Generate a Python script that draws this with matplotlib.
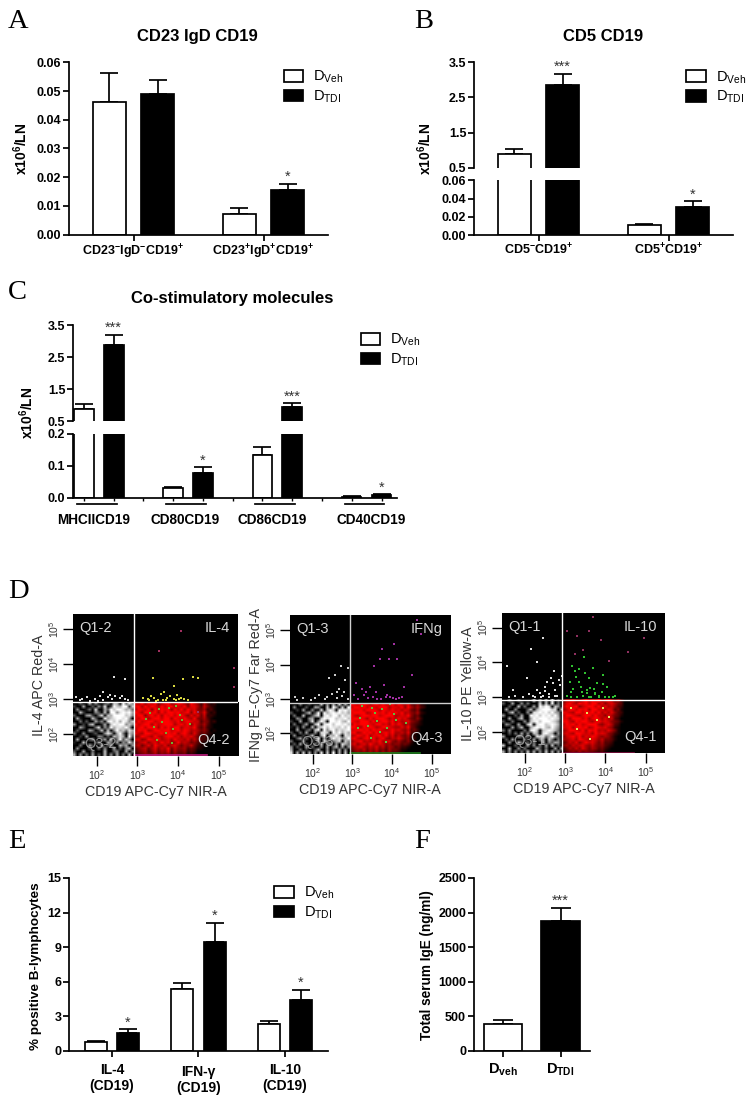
import numpy as np
import matplotlib
matplotlib.use("Agg")
import matplotlib.pyplot as plt
from matplotlib.patches import Patch
from matplotlib.colors import LinearSegmentedColormap

plt.rcParams['font.family'] = ['Liberation Sans', 'DejaVu Sans']
plt.rcParams['mathtext.fontset'] = 'custom'
plt.rcParams['mathtext.rm'] = 'Liberation Sans'
plt.rcParams['mathtext.bf'] = 'Liberation Sans:bold'
plt.rcParams['mathtext.it'] = 'Liberation Sans:italic'

W, H = 752, 1102
LW = 1.25
# ---------------- data ----------------
a_labels = [r'$\mathbf{CD23^{-}IgD^{-}CD19^{+}}$', r'$\mathbf{CD23^{+}IgD^{+}CD19^{+}}$']
a_veh = [0.0462, 0.0071]
a_veh_top = [0.0564, 0.0094]
a_tdi = [0.0488, 0.0157]
a_tdi_top = [0.0538, 0.0177]
a_sig = ['', '*']

b_labels = [r'$\mathbf{CD5^{-}CD19^{+}}$', r'$\mathbf{CD5^{+}CD19^{+}}$']
b_veh = [0.90, 0.0105]
b_veh_top = [1.03, 0.012]
b_tdi = [2.85, 0.0305]
b_tdi_top = [3.17, 0.037]
b_sig = ['***', '*']

c_labels = ['MHCIICD19', 'CD80CD19', 'CD86CD19', 'CD40CD19']
c_veh = [0.90, 0.030, 0.135, 0.004]
c_veh_top = [1.03, 0.033, 0.160, 0.005]
c_tdi = [2.87, 0.077, 0.95, 0.009]
c_tdi_top = [3.20, 0.095, 1.06, 0.011]
c_sig = ['***', '*', '***', '*']

e_labels = ['IL-4\n(CD19)', 'IFN-γ\n(CD19)', 'IL-10\n(CD19)']
e_veh = [0.75, 5.4, 2.35]
e_veh_top = [0.82, 5.85, 2.6]
e_tdi = [1.55, 9.45, 4.4]
e_tdi_top = [1.85, 11.1, 5.3]
e_sig = ['*', '*', '*']

f_labels = [r'$\mathbf{D_{veh}}$', r'$\mathbf{D_{TDI}}$']
f_values = [385, 1875]
f_tops = [440, 2065]
f_sig = ['', '***']

legend_labels = [r'$\mathregular{D_{Veh}}$', r'$\mathregular{D_{TDI}}$']

# flow cytometry: event density in 3-pixel cells (digits 0-9), top row first
p1_white = ["00300705002407609385", "20060030518029769927", "05001408006397998674",
            "00720005307099589896", "30005620480769999785", "06100073009578998960",
            "00403006250897969857", "50020570016079899575", "00630004805296887960",
            "03000640270705967486", "40050013005860694075", "00206000540307586093",
            "06000350026070493750", "10070002500640605384", "00400620060350074605",
            "05000300405006030570", "30060040007003500604", "60504060307050604070"]
p1_red = ["76958794689579864975263120000000", "89697986979968795886374210000000",
          "69879597989597969785462310000000", "98699896979989789596583120000000",
          "79958979698979975868472210000000", "87996899799698797695463100000000",
          "69789978999879689877354120000000", "97899697899968979586463100000000",
          "78979996979799688795352100000000", "69896799899789798676453010000000",
          "87699878979896897585342100000000", "56987697689978687864231000000000",
          "78569879678697768574322000000000", "46785786978569676453210000000000",
          "57468597685786465742110000000000", "35674685769475563431100000000000",
          "24563574658364452320000000000000", "13454463545353341210000000000000"]
p2_white = ["00040020007050608060", "05000300650070960709", "00206005008079709897",
            "30000470390968989786", "04007003680897996978", "00530056007989978897",
            "20060038059709989769", "04002600790899799897", "10305007068979887979",
            "00600240790958968789", "30040600508870979686", "05002037006907696087",
            "00360400580605978569", "40005002060850468075", "03060300407036050864",
            "50300604005060470605", "60040200370050306050", "80607060508070906070"]
p2_red = ["98799868979789697684352100000000", "79989798799968879596463200000000",
          "98897999869879786874351000000000", "89999679989798979675462100000000",
          "97689989978999678795341000000000", "89998697999868797864352000000000",
          "98799979689979686785431000000000", "69899987997869797574321000000000",
          "99769898679987668694310000000000", "78998979897679786573420000000000",
          "89679897968979667583210000000000", "67987968897968575462100000000000",
          "79768979689657686451200000000000", "57896768796785464352000000000000",
          "68578697687564553431000000000000", "46786576857465342210000000000000",
          "35657465745364431100000000000000", "24545464636453321000000000000000"]
p3_white = ["00400300007050608030", "30060050400080709040", "00300704006097980750",
            "06005000370689997806", "00470300508898979650", "50003060098979897960",
            "00600470069899989870", "30040005078979998750", "05300600790899789860",
            "00060370068989769750", "40500004089707898640", "00304060507608976050",
            "60000530400878469530", "03060004006056074040", "00500730304007053650",
            "70003000605040607030", "00700504000730400605", "60505040706050706050"]
p3_red = ["36685479687957863520000000000000", "58976989799685786430000000000000",
          "69889578997968675320000000000000", "57997989699786873410000000000000",
          "88769979897968685320000000000000", "69987689979775864310000000000000",
          "78699979689868673200000000000000", "89769899768978754310000000000000",
          "69897978999657863200000000000000", "78969989679878652100000000000000",
          "57998796989676864100000000000000", "68769987869787542100000000000000",
          "47897968798656531000000000000000", "56786987687574431000000000000000",
          "35768579786463320000000000000000", "46576786575453210000000000000000",
          "24657586465342100000000000000000", "13454645443231000000000000000000"]

# individual events, log10 coordinates
p1_w_x = [2.42,2.69,2.16,2.33,1.77,1.96,2.08,2.28,2.45,2.57,2.69,2.77,1.50,1.59,1.84,2.16,1.65,2.02,2.37,2.62]
p1_w_y = [3.65,3.57,3.20,3.13,3.06,3.01,3.08,3.06,3.10,3.04,3.01,2.98,3.06,2.98,2.96,2.98,3.02,2.96,3.00,3.08]
p1_y_x = [3.14,3.25,3.33,3.42,3.50,3.58,3.66,3.73,3.81,3.90,3.98,4.06,4.15,4.25,3.38,3.90,4.11,4.36,4.48,3.45,3.70,3.96,3.28,3.62,4.02]
p1_y_y = [3.05,3.02,3.10,3.04,2.98,3.14,3.22,3.03,3.09,3.02,3.12,3.05,3.00,2.97,3.61,3.39,3.58,3.63,3.61,2.96,2.97,2.98,2.97,2.99,3.00]
p1_o_x = [3.54,4.07,5.37,5.38,4.50]
p1_o_y = [4.39,4.96,3.34,3.90,2.65]
p1_g_x = [3.30,3.52,3.78,3.95,3.61,3.40,3.88,4.10,3.22,3.70,4.30,3.47,3.85,4.05]
p1_g_y = [2.60,2.72,2.75,2.80,2.35,2.20,2.15,2.40,2.45,2.05,2.30,1.85,1.75,2.55]

p2_w_x = [2.55,2.72,2.82,2.65,2.48,2.35,2.15,2.05,1.95,1.75,1.55,2.30,2.62,2.75,2.88,2.90,2.40,2.60,1.60,2.80]
p2_w_y = [3.70,3.95,3.55,3.30,3.15,3.05,3.10,3.02,2.98,3.02,3.05,3.00,3.02,3.08,3.00,3.90,3.60,3.20,2.98,3.20]
p2_m_x = [3.10,3.25,3.45,3.60,3.80,3.95,4.10,4.25,3.05,3.30,3.52,3.72,3.88,4.18,3.15,3.40,3.62,3.85,4.02,4.30,3.70,3.55,3.92,4.12,4.50,3.35,4.05,4.62,4.72,3.75]
p2_m_y = [3.45,3.28,3.35,3.20,3.40,3.05,3.00,3.05,3.10,3.10,3.05,3.00,3.12,3.02,3.00,3.02,3.00,3.05,3.03,3.35,4.15,3.95,4.15,4.15,3.70,3.20,4.60,5.30,4.90,4.45]
p2_g_x = [3.25,3.50,3.75,3.95,3.62,3.40,3.88,4.10,3.20,3.70,4.35,3.47,3.85,4.05,3.15,3.58]
p2_g_y = [2.80,2.75,2.70,2.85,2.35,2.20,2.15,2.40,2.45,2.05,2.30,1.85,1.75,2.55,2.15,2.60]

p3_w_x = [2.85,2.72,2.50,2.30,2.10,2.65,2.45,2.20,1.95,1.75,1.55,2.40,2.60,2.75,2.88,2.30,2.70,2.55,2.80,2.15,1.60,1.70,2.60,2.38,2.50,2.92,2.75,2.45,2.25,2.05]
p3_w_y = [3.50,3.75,3.30,3.20,3.10,3.55,3.05,3.05,3.02,3.05,3.90,3.00,3.10,3.20,3.35,4.00,3.40,3.45,3.05,4.40,3.00,3.20,3.02,3.12,3.18,3.62,3.05,4.70,3.02,3.55]
p3_g_x = [3.05,3.15,3.30,3.45,3.60,3.75,3.85,4.00,4.10,4.25,3.20,3.40,3.55,3.72,3.92,3.12,3.35,3.60,3.80,4.05,3.25,3.50,3.70,3.95,3.18,3.42,3.65,3.85,3.48,3.28,3.75,3.55,3.95,3.15,4.20,3.62,3.35]
p3_g_y = [3.05,3.02,3.00,3.05,3.02,3.10,3.05,3.02,3.00,3.05,3.25,3.30,3.20,3.25,3.15,3.45,3.45,3.55,3.40,3.30,3.75,3.70,3.85,3.65,3.90,3.15,3.02,3.00,4.15,3.58,3.12,3.12,3.38,3.15,3.02,3.28,3.82]
p3_m_x = [3.05,3.30,3.60,3.90,4.55,4.95,4.10,3.45,3.25,3.70]
p3_m_y = [4.90,4.75,4.90,4.65,4.30,4.70,4.05,4.35,4.25,5.30]
p3_y_x = [3.55,3.80,3.30,3.95,3.62,3.15,4.10]
p3_y_y = [2.55,2.35,2.10,2.70,1.80,2.70,2.45]

facs_labels = [('IL-4 APC Red-A', 'Q1-2', 'IL-4', 'Q3-2', 'Q4-2'),
               ('IFNg PE-Cy7 Far Red-A', 'Q1-3', 'IFNg', 'Q3-3', 'Q4-3'),
               ('IL-10 PE Yellow-A', 'Q1-1', 'IL-10', 'Q3-1', 'Q4-1')]
facs_x_label = 'CD19 APC-Cy7 NIR-A'
facs_decades = [2, 3, 4, 5]

# ---------------- layout ----------------
fig = plt.figure(figsize=(W / 100, H / 100), dpi=100, facecolor='white')


def px_axes(left, right, top, bottom):
    return fig.add_axes([left / W, 1 - bottom / H, (right - left) / W, (bottom - top) / H])


def fx(x):
    return x / W


def fy(y):
    return 1 - y / H


def style(ax, size=9):
    for s in ('top', 'right'):
        ax.spines[s].set_visible(False)
    for s in ('left', 'bottom'):
        ax.spines[s].set_linewidth(LW)
    ax.tick_params(length=4, width=LW, pad=1.5, labelsize=size)
    for t in ax.get_yticklabels():
        t.set_fontweight('bold')


def draw_bars(axs, pos, vals, tops, color, width):
    for ax in axs:
        ax.bar(pos, vals, width=width, facecolor=color, edgecolor='black', linewidth=LW, zorder=2)
        lower = [0] * len(vals)
        upper = [t - v for t, v in zip(tops, vals)]
        ax.errorbar(pos, vals, yerr=[lower, upper], fmt='none', ecolor='black',
                    elinewidth=LW, capsize=6.5, capthick=LW, zorder=1)


def stars(ax, xs, tops, marks):
    for x, t, m in zip(xs, tops, marks):
        if m:
            ax.annotate(m, (x, t), xytext=(0, 2), textcoords='offset points', ha='center',
                        va='baseline', fontsize=10.5, color='#333333', annotation_clip=False)


def legend(ax, x, y):
    h = [Patch(facecolor='white', edgecolor='black', linewidth=LW),
         Patch(facecolor='black', edgecolor='black', linewidth=LW)]
    ax.legend(h, legend_labels, loc='upper left', bbox_to_anchor=(fx(x), fy(y)),
              bbox_transform=fig.transFigure, frameon=False, fontsize=10.5, borderpad=0,
              borderaxespad=0, handlelength=1.33, handleheight=0.85, handletextpad=0.68,
              labelspacing=0.22)


def ylabel(ax, text, x, y, size=10):
    ax.set_ylabel(text, fontsize=size, fontweight='bold')
    ax.yaxis.set_label_coords(fx(x + 7.5), fy(y), transform=fig.transFigure)


def panel_letter(s, x, y):
    fig.text(fx(x), fy(y), s, family='Liberation Serif', fontsize=20.5, va='baseline', ha='left')


Y6 = r'$\mathbf{x10^{6}/LN}$'

# ---------------- A ----------------
ax = px_axes(69, 328, 62.3, 234.7)
sp, off, bw = 130.0, 24.2 / 130, 33 / 130
x = np.arange(2)
draw_bars([ax], x - off, a_veh, a_veh_top, 'white', bw)
draw_bars([ax], x + off, a_tdi, a_tdi_top, 'black', bw)
stars(ax, x + off, a_tdi_top, a_sig)
ax.set_xlim((69 - 133.5) / sp, (328 - 133.5) / sp)
ax.set_ylim(0, 0.06)
ax.set_yticks([0, 0.01, 0.02, 0.03, 0.04, 0.05, 0.06], ['0.00', '0.01', '0.02', '0.03', '0.04', '0.05', '0.06'])
ax.set_xticks(x, a_labels)
style(ax)
legend(ax, 284, 69)
ylabel(ax, Y6, 22, 149)
ax.set_title('CD23 IgD CD19', fontsize=12, fontweight='bold', pad=15, x=0.497)

# ---------------- B ----------------
top = px_axes(474, 733, 62.3, 167.7)
low = px_axes(474, 733, 180.3, 235)
sp, off, bw = 130.0, 24.2 / 130, 32.5 / 130
x = np.arange(2)
draw_bars([top, low], x - off, b_veh, b_veh_top, 'white', bw)
draw_bars([top, low], x + off, b_tdi, b_tdi_top, 'black', bw)
stars(top, (x + off)[:1], b_tdi_top[:1], b_sig[:1])
stars(low, (x + off)[1:], b_tdi_top[1:], b_sig[1:])
for a in (top, low):
    a.set_xlim((474 - 538.5) / sp, (733 - 538.5) / sp)
top.set_ylim(0.5, 3.5)
low.set_ylim(0, 0.06)
top.set_yticks([0.5, 1.5, 2.5, 3.5], ['0.5', '1.5', '2.5', '3.5'])
low.set_yticks([0, 0.02, 0.04, 0.06], ['0.00', '0.02', '0.04', '0.06'])
low.set_xticks(x, b_labels)
top.set_xticks([])
style(top)
style(low)
top.spines['bottom'].set_visible(False)
legend(top, 686.3, 69.3)
ylabel(top, Y6, 427, 149)
top.set_title('CD5 CD19', fontsize=12, fontweight='bold', pad=15, x=0.497)

# ---------------- C ----------------
top = px_axes(73, 397, 325.3, 421.3)
low = px_axes(73, 397, 433.7, 498)
sp, off, bw = 89.3, 15.0 / 89.3, 19.6 / 89.3
x = np.arange(4)
draw_bars([top, low], x - off, c_veh, c_veh_top, 'white', bw)
draw_bars([top, low], x + off, c_tdi, c_tdi_top, 'black', bw)
stars(top, (x + off)[[0, 2]], [c_tdi_top[0], c_tdi_top[2]], [c_sig[0], c_sig[2]])
stars(low, (x + off)[[1, 3]], [c_tdi_top[1], c_tdi_top[3]], [c_sig[1], c_sig[3]])
for a in (top, low):
    a.set_xlim((73 - 98.7) / sp, (397 - 98.7) / sp)
top.set_ylim(0.5, 3.5)
low.set_ylim(0, 0.2)
top.set_yticks([0.5, 1.5, 2.5, 3.5], ['0.5', '1.5', '2.5', '3.5'])
low.set_yticks([0, 0.1, 0.2], ['0.0', '0.1', '0.2'])
top.set_xticks([])
style(top)
style(low)
top.spines['bottom'].set_visible(False)
low.set_xticks(np.sort(np.r_[x - off, x + off, x[:-1] + 0.5]), [''] * 11)
low.tick_params(axis='x', length=2.5, width=1)
tr = low.get_xaxis_transform()
c_text_shift = [-4.7, -3, -4.7, 4.3]
for i, lab in enumerate(c_labels):
    low.plot([i - 0.245, i + 0.2], [-0.1, -0.1], color='black', lw=LW, transform=tr, clip_on=False)
    low.text(i + c_text_shift[i] / sp, -0.345, lab, transform=tr, ha='center', va='center',
             fontsize=9.8, fontweight='bold')
legend(top, 360.7, 332)
ylabel(top, Y6, 29, 412.5)
top.set_title('Co-stimulatory molecules', fontsize=12, fontweight='bold', pad=16, x=0.49)

# ---------------- D ----------------
cm_white = LinearSegmentedColormap.from_list('w', ['black', 'white'])
cm_red = LinearSegmentedColormap.from_list('r', ['black', '#ff0000'])


def grid(rows):
    return np.array([[int(c) for c in r] for r in rows]) / 9


def facs(geom, white, red, labels, events, line, gate_col):
    left, right, top_px, bottom, x2, dx, y2, dy, gx, gy = geom
    ax = px_axes(left, right, top_px, bottom)
    ax.set_facecolor('black')
    xlo, xhi = 2 + (left - x2) / dx, 2 + (right - x2) / dx
    ylo, yhi = 2 + (y2 - bottom) / dy, 2 + (y2 - top_px) / dy
    gate_x, gate_y = 2 + (gx - x2) / dx, 2 + (y2 - gy) / dy
    ax.imshow(grid(white), cmap=cm_white, vmin=0, vmax=1, aspect='auto',
              interpolation='bilinear', extent=(xlo, gate_x, ylo, gate_y))
    ax.imshow(grid(red), cmap=cm_red, vmin=0, vmax=1, aspect='auto',
              interpolation='bilinear', extent=(gate_x, xhi, ylo, gate_y))
    for ex, ey, col in events:
        ax.scatter(ex, ey, s=1.2, c=col, marker='s', linewidths=0, zorder=3)
    ax.plot([gate_x, xhi * 0.7 + gate_x * 0.3], [ylo + 0.015] * 2, color=line, lw=1.2, zorder=3)
    ax.axvline(gate_x, color=gate_col, lw=1, zorder=4)
    ax.axhline(gate_y, color=gate_col, lw=1, zorder=4)
    ax.set_xlim(xlo, xhi)
    ax.set_ylim(ylo, yhi)
    ticks = [r'$\mathregular{10^{%d}}$' % d for d in facs_decades]
    ax.set_xticks(facs_decades, ticks)
    ax.set_yticks(facs_decades, ticks)
    ax.tick_params(length=7, width=1, pad=1.5, labelsize=7.5, labelcolor='#333333')
    ax.tick_params(axis='y', labelrotation=90)
    for t in ax.get_yticklabels():
        t.set_va('center')
    for s in ax.spines.values():
        s.set_visible(False)
    ax.set_xlabel(facs_x_label, fontsize=10.3, color='#333333', labelpad=2.5)
    ax.set_ylabel(labels[0], fontsize=10.3, color='#333333', labelpad=1)
    tc = '#d8d8d8'
    kw = dict(color=tc, fontsize=10.5, transform=ax.transAxes, va='center', zorder=5)
    ax.text(0.04, 0.90, labels[1], ha='left', **kw)
    ax.text(0.95, 0.90, labels[2], ha='right', **kw)
    ax.text(0.07, 0.085, labels[3], ha='left', alpha=0.6, **kw)
    ax.text(0.95, 0.115, labels[4], ha='right', **kw)


facs((73, 238, 614, 756, 96.7, 40.7, 734.3, 35, 134, 702.3), p1_white, p1_red, facs_labels[0],
     [(p1_w_x, p1_w_y, '#dddddd'), (p1_y_x, p1_y_y, '#d6d640'), (p1_o_x, p1_o_y, '#a03060'),
      (p1_g_x, p1_g_y, '#70b030')], '#c02080', 'white')
facs((290, 450.7, 615.3, 754, 312.7, 39.7, 733.3, 34.4, 349.7, 703.3), p2_white, p2_red, facs_labels[1],
     [(p2_w_x, p2_w_y, '#cccccc'), (p2_m_x, p2_m_y, '#a030a0'), (p2_g_x, p2_g_y, '#60c040')],
     '#208020', '#d0d0d0')
facs((502, 665, 613.3, 753.3, 525, 40.2, 732.3, 34.9, 562.3, 700), p3_white, p3_red, facs_labels[2],
     [(p3_w_x, p3_w_y, '#dddddd'), (p3_g_x, p3_g_y, '#30c030'), (p3_m_x, p3_m_y, '#903060'),
      (p3_y_x, p3_y_y, '#e8e060')], '#801040', 'white')

# ---------------- E ----------------
ax = px_axes(69, 328, 878, 1050.7)
sp, off, bw = 86.4, 16.1 / 86.4, 22 / 86.4
x = np.arange(3)
draw_bars([ax], x - off, e_veh, e_veh_top, 'white', bw)
draw_bars([ax], x + off, e_tdi, e_tdi_top, 'black', bw)
stars(ax, x + off, e_tdi_top, e_sig)
ax.set_xlim((69 - 112) / sp, (328 - 112) / sp)
ax.set_ylim(0, 15)
ax.set_yticks([0, 3, 6, 9, 12, 15], ['0', '3', '6', '9', '12', '15'])
ax.set_xticks(x, e_labels)
style(ax)
for t in ax.get_xticklabels():
    t.set_fontweight('bold')
    t.set_fontsize(10)
ax.tick_params(axis='x', pad=4.5)
ax.xaxis.get_major_ticks()[1].set_pad(6.5)
legend(ax, 274.3, 885)
ylabel(ax, '% positive B-lymphocytes', 35, 966, 9.7)

# ---------------- F ----------------
ax = px_axes(473.7, 590, 878, 1050.7)
sp, bw = 57.7, 38.5 / 57.7
x = np.arange(2)
ax.bar(x, f_values, width=bw, color=['white', 'black'], edgecolor='black', linewidth=LW, zorder=2)
ax.errorbar(x, f_values, yerr=[[0, 0], [t - v for t, v in zip(f_tops, f_values)]], fmt='none',
            ecolor='black', elinewidth=LW, capsize=7.5, capthick=LW, zorder=1)
stars(ax, x, f_tops, f_sig)
ax.set_xlim((473.7 - 502.8) / sp, (590 - 502.8) / sp)
ax.set_ylim(0, 2500)
ax.set_yticks([0, 500, 1000, 1500, 2000, 2500])
ax.set_xticks(x, f_labels)
style(ax)
ax.tick_params(axis='x', labelsize=10.5, pad=4)
ylabel(ax, 'Total serum IgE (ng/ml)', 427, 965.5, 9.8)

for s, px, py in [('A', 8, 28), ('B', 414, 28), ('C', 8, 299), ('D', 8, 598), ('E', 8, 848), ('F', 414, 848)]:
    panel_letter(s, px, py)

fig.savefig('out.png', dpi=100)
